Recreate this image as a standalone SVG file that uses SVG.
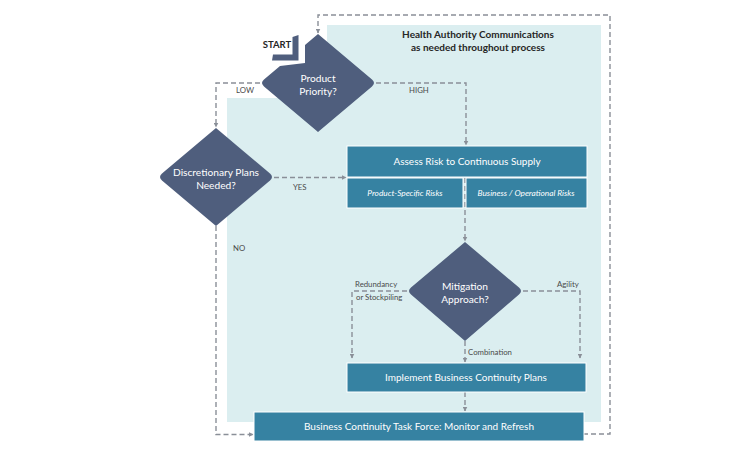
<svg xmlns="http://www.w3.org/2000/svg" width="750" height="450" viewBox="0 0 750 450">
<style>
.bg{fill:#dbeef0}
.dia{fill:#4f5e7d}
.box{fill:#3682a2;stroke:#ffffff;stroke-width:1}
.con{fill:none;stroke:#8a8f98;stroke-width:1.4;stroke-dasharray:5 3}
.dt{font-family:Lato,"Open Sans",sans-serif;font-size:10.2px;fill:#ffffff;text-anchor:middle}
.bt{font-family:Lato,"Open Sans",sans-serif;font-size:10px;fill:#ffffff;text-anchor:middle}
.it{font-family:Lato,"Open Sans",sans-serif;font-size:8.3px;font-style:italic;fill:#ffffff;text-anchor:middle}
.lb{font-family:Lato,"Open Sans",sans-serif;font-size:7.8px;fill:#4a4a4a}
.hd{font-family:Lato,"Open Sans",sans-serif;font-size:10px;font-weight:bold;fill:#262626;text-anchor:middle}
</style>
<defs>
<marker id="arr" markerWidth="5" markerHeight="5" refX="4.5" refY="2.5" orient="auto" markerUnits="userSpaceOnUse">
<path d="M0,0 L5,2.5 L0,5 z" fill="#8a8f98"/>
</marker>
</defs>
<rect width="750" height="450" fill="#ffffff"/>
<g id="background">
<path class="bg" d="M327,25 H601 V422 H227 V98 H327 Z"/>
<text class="hd" x="478" y="38">Health Authority Communications</text>
<text class="hd" x="478" y="51">as needed throughout process</text>
</g>
<g id="connectors">
<path class="con" d="M583,434 H610 V15 H318 V33" marker-end="url(#arr)"/>
<path class="con" d="M260,83 H216 V127" marker-end="url(#arr)"/>
<path class="con" d="M376,83 H466 V145" marker-end="url(#arr)"/>
<path class="con" d="M274,177.5 H346" marker-end="url(#arr)"/>
<path class="con" d="M216,226 V434.5 H253" marker-end="url(#arr)"/>
<path class="con" d="M465,178 V241" marker-end="url(#arr)"/>
<path class="con" d="M407,291 H352 V358" marker-end="url(#arr)"/>
<path class="con" d="M523,291 H580 V358" marker-end="url(#arr)"/>
<path class="con" d="M465,341 V362" marker-end="url(#arr)"/>
<path class="con" d="M465,392 V411" marker-end="url(#arr)"/>
<text class="lb" x="236" y="93">LOW</text>
<text class="lb" x="409" y="93">HIGH</text>
<text class="lb" x="293" y="190">YES</text>
<text class="lb" x="233" y="251">NO</text>
<text class="lb" x="355" y="287">Redundancy</text>
<text class="lb" x="356" y="300">or Stockpiling</text>
<text class="lb" x="557" y="287">Agility</text>
<text class="lb" x="468" y="355">Combination</text>
</g>
<g id="start">
<path class="dia" d="M292.5,37 L298.5,35 L298.5,60.5 L272,60.5 L273,54.5 L292.5,54.5 Z"/>
<text x="277" y="48" style="font-family:Lato,'Open Sans',sans-serif;font-size:9.5px;font-weight:bold;fill:#262626;text-anchor:middle">START</text>
</g>
<g id="product-priority">
<path class="dia" d="M318,34 L305,45 L305,63 L280,66 L264,79.6 Q260,83 264,86.4 L318,132 L372,86.4 Q376,83 372,79.6 Z"/>
<text class="dt" x="318" y="82">Product</text>
<text class="dt" x="318" y="95">Priority?</text>
</g>
<g id="discretionary">
<path class="dia" d="M216,128 L162,173.6 Q158,177 162,180.4 L216,226 L270,180.4 Q274,177 270,173.6 Z"/>
<text class="dt" x="216" y="176">Discretionary Plans</text>
<text class="dt" x="216" y="189">Needed?</text>
</g>
<g id="assess-risk">
<rect class="box" x="347" y="146" width="240" height="31"/>
<text class="bt" x="467" y="165">Assess Risk to Continuous Supply</text>
<rect class="box" x="347" y="178" width="116" height="30"/>
<text class="it" x="405" y="196">Product-Specific Risks</text>
<rect class="box" x="466" y="178" width="121" height="30"/>
<text class="it" x="526" y="196">Business / Operational Risks</text>
</g>
<g id="mitigation">
<path class="dia" d="M465,242 L411,287.6 Q407,291 411,294.4 L465,341 L519,294.4 Q523,291 519,287.6 Z"/>
<text class="dt" x="465" y="290">Mitigation</text>
<text class="dt" x="465" y="303">Approach?</text>
</g>
<g id="implement">
<rect class="box" x="347" y="363" width="239" height="29"/>
<text class="bt" x="466" y="381">Implement Business Continuity Plans</text>
</g>
<g id="task-force">
<rect class="box" x="254" y="412" width="330" height="29"/>
<text class="bt" x="419" y="430">Business Continuity Task Force: Monitor and Refresh</text>
</g>
</svg>
